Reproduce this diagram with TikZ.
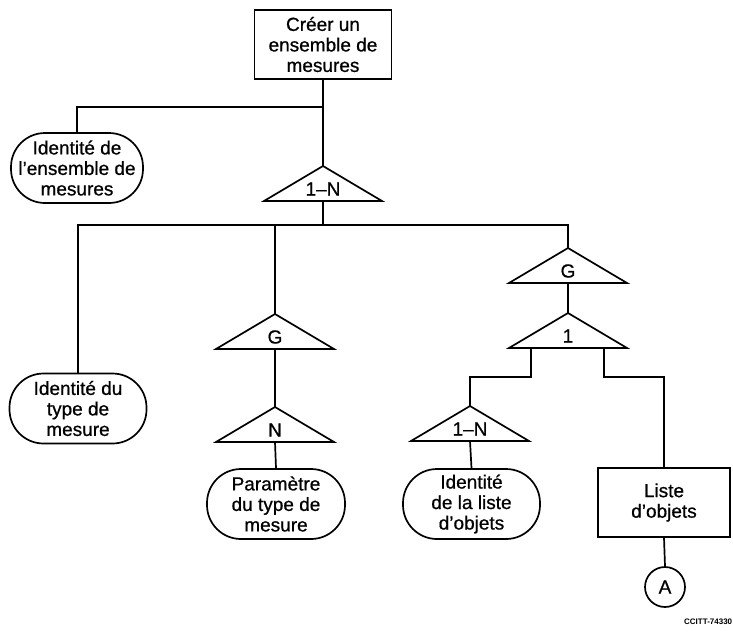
\documentclass[tikz,border=0pt]{standalone}
\usepackage{fontspec}
\setmainfont{Liberation Sans}
\newfontfamily\lblfont{Liberation Sans}[Ligatures=TeX, FakeBold=0.7]
\begin{document}
\begin{tikzpicture}[x=1pt,y=-1pt,
  every path/.style={line width=1.7pt},
  lbl/.style={font=\lblfont\fontsize{19}{20.5}\selectfont, align=center, inner sep=0pt},
  entity/.style={lbl, draw, rectangle, minimum width=#1, minimum height=69pt},
  attr/.style={lbl, draw, rectangle, rounded corners=34pt, minimum width=#1, minimum height=70pt},
  conn/.style={line width=1.7pt},
  refcircle/.style={lbl, draw, circle, minimum size=40pt}
]
\useasboundingbox (0,0) rectangle (733,633);

% branching triangle: name, apex x, apex y, label
\newcommand{\branchtri}[4]{%
  \draw (#2,#3) -- ++(-59,35) -- ++(118,0) -- cycle;
  \node[lbl] (#1-lbl) at (#2,#3+23) {#4};
  \coordinate (#1-top) at (#2,#3);
  \coordinate (#1-bot) at (#2,#3+35);
}

% entities and attributes
\node[entity=137pt] (top) at (323,44.5) {Créer un\\ensemble de\\mesures};
\node[attr=132pt] (idset) at (77,168) {Identité de\\l'ensemble de\\mesures};
\node[attr=137pt] (idtype) at (78,408.5) {Identité du\\type de\\mesure};
\node[attr=138pt] (param) at (276,504) {Paramètre\\du type de\\mesure};
\node[attr=137pt] (idlist) at (471.5,504) {Identité\\de la liste\\d'objets};
\node[entity=132pt] (list) at (664,502.5) {Liste\\d'objets};
\node[refcircle] (refA) at (665,587) {A};

% cardinality triangles
\branchtri{t1}{323}{166}{1--N}
\branchtri{tg1}{275}{314}{G}
\branchtri{tn}{275}{407}{N}
\branchtri{tg2}{568}{248}{G}
\branchtri{tone}{568}{313}{1}
\branchtri{t1n}{470}{406}{1--N}

% junction points
\coordinate (j0) at (323,107);
\coordinate (j1) at (323,225);
\coordinate (legL) at (531,348);
\coordinate (legR) at (604,348);
\coordinate (jL) at (531,377);
\coordinate (jR) at (604,377);

% connectors
\draw[conn] (top.south) -- (t1-top);
\draw[conn] (j0) -| (idset.north);
\draw[conn] (t1-bot) -- (j1);
\draw[conn] (j1) -| (idtype.north);
\draw[conn] (j1) -| (tg1-top);
\draw[conn] (j1) -| (tg2-top);
\draw[conn] (tg1-bot) -- (tn-top);
\draw[conn] (tn-bot) -- (param.north);
\draw[conn] (tg2-bot) -- (tone-top);
\draw[conn] (legL) -- (jL) -| (t1n-top);
\draw[conn] (legR) -- (jR) -| (list.north);
\draw[conn] (t1n-bot) -- (idlist.north);
\draw[conn] (list.south) -- (refA.north);

% figure reference
\node[font=\bfseries\fontsize{8}{9}\selectfont, anchor=east, inner sep=0pt] (figref) at (733,622) {CCITT-74330};
\end{tikzpicture}
\end{document}
